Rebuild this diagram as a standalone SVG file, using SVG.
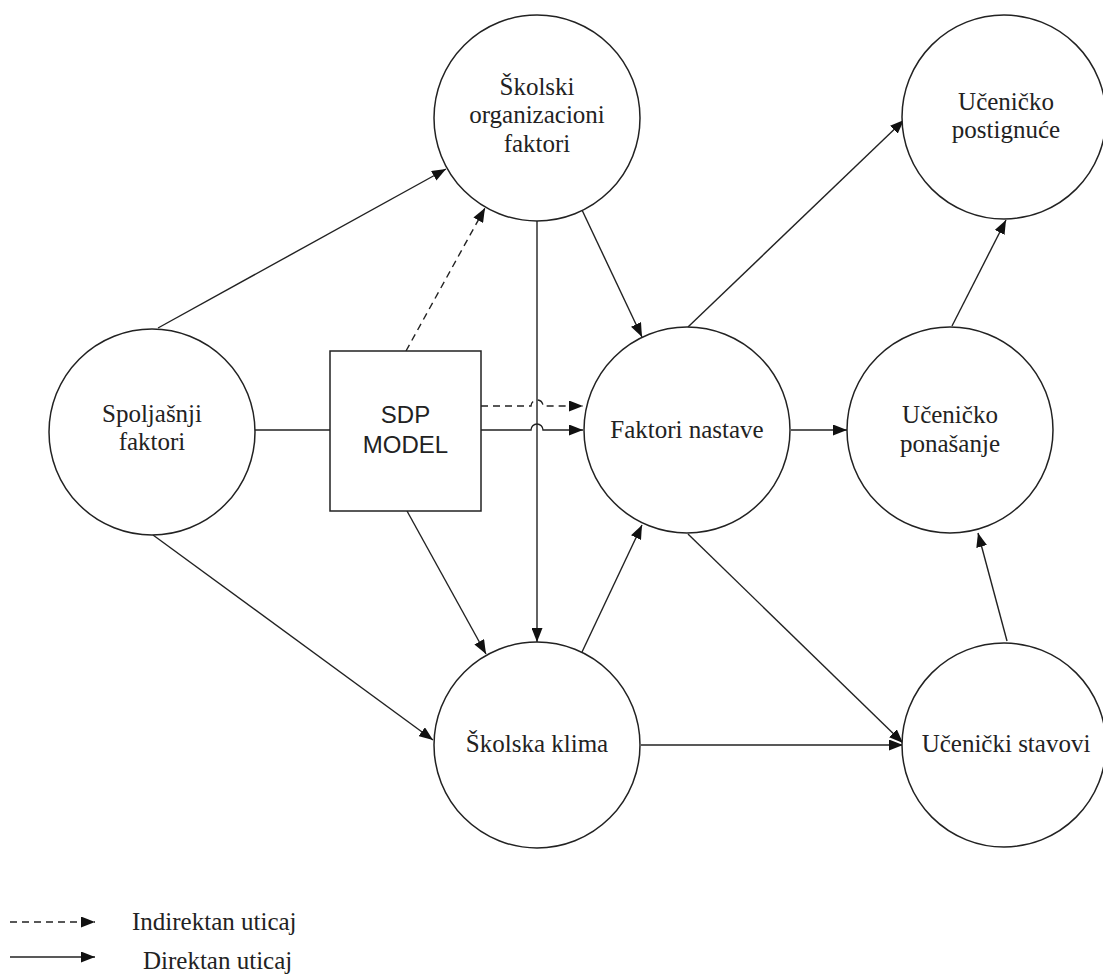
<svg xmlns="http://www.w3.org/2000/svg" width="1103" height="978" viewBox="0 0 1103 978">
<defs>
<marker id="ah" viewBox="0 0 14 11" markerWidth="14" markerHeight="11" refX="14" refY="5.5" orient="auto" markerUnits="userSpaceOnUse">
<path d="M0,0 L14,5.5 L0,11 z" fill="#111"/>
</marker>
<style>
.node{fill:#fff;stroke:#222;stroke-width:1.5}
.t{font-family:"Liberation Serif","Times New Roman",serif;font-size:25px;fill:#222;text-anchor:middle}
.s{font-family:"Liberation Sans",Arial,sans-serif;font-size:24px;fill:#222;text-anchor:middle}
.lg{font-family:"Liberation Serif","Times New Roman",serif;font-size:25px;fill:#222}
.c{fill:none;stroke:#222;stroke-width:1.4}
.a{marker-end:url(#ah)}
.d{stroke-dasharray:7 5}
</style>
</defs>
<rect width="1103" height="978" fill="#fff"/>
<g id="connectors">
<line class="c" x1="255" y1="430" x2="330" y2="430"/>
<line class="c a" x1="158" y1="328" x2="446" y2="169"/>
<line class="c a" x1="153" y1="535" x2="433" y2="740"/>
<line class="c d a" x1="406" y1="351" x2="485" y2="208"/>
<line class="c a" x1="407" y1="511" x2="486" y2="654"/>
<line class="c a" x1="537" y1="221" x2="537" y2="642"/>
<line class="c a" x1="582" y1="210" x2="642" y2="337"/>
<line class="c a" x1="582" y1="652" x2="642" y2="525"/>
<path class="c d a" d="M481,406 H531 A6,6 0 0 1 543,406 H583"/>
<path class="c a" d="M481,430 H531 A6,6 0 0 1 543,430 H583"/>
<line class="c a" x1="688" y1="327" x2="904" y2="120"/>
<line class="c a" x1="791" y1="430" x2="847" y2="430"/>
<line class="c a" x1="688" y1="534" x2="903" y2="743"/>
<line class="c a" x1="641" y1="745" x2="903" y2="745"/>
<line class="c a" x1="1007" y1="641" x2="978" y2="533"/>
<line class="c a" x1="952" y1="326" x2="1006" y2="220"/>
</g>
<g id="spoljasnji">
<circle class="node" cx="152" cy="432" r="103"/>
<text class="t" x="152" y="422">Spoljašnji</text>
<text class="t" x="152" y="450">faktori</text>
</g>
<g id="skolski-org">
<circle class="node" cx="537" cy="118" r="103"/>
<text class="t" x="537" y="95">Školski</text>
<text class="t" x="537" y="123">organizacioni</text>
<text class="t" x="537" y="152">faktori</text>
</g>
<g id="sdp">
<rect class="node" x="330" y="351" width="151" height="160"/>
<text class="s" x="405.5" y="423">SDP</text>
<text class="s" x="405.5" y="453">MODEL</text>
</g>
<g id="faktori-nastave">
<circle class="node" cx="687" cy="430" r="103"/>
<text class="t" x="687" y="438">Faktori nastave</text>
</g>
<g id="skolska-klima">
<circle class="node" cx="537" cy="745" r="103"/>
<text class="t" x="537" y="752">Školska klima</text>
</g>
<g id="ucenicko-postignuce">
<circle class="node" cx="1004" cy="117" r="102"/>
<text class="t" x="1006" y="110">Učeničko</text>
<text class="t" x="1006" y="138">postignuće</text>
</g>
<g id="ucenicko-ponasanje">
<circle class="node" cx="950" cy="430" r="103"/>
<text class="t" x="950" y="423">Učeničko</text>
<text class="t" x="950" y="452">ponašanje</text>
</g>
<g id="ucenicki-stavovi">
<circle class="node" cx="1004" cy="745" r="102"/>
<text class="t" x="1006" y="752">Učenički stavovi</text>
</g>
<g id="legend">
<line class="c d a" x1="10" y1="922" x2="95" y2="922"/>
<line class="c a" x1="10" y1="957" x2="95" y2="957"/>
<text class="lg" x="132" y="930">Indirektan uticaj</text>
<text class="lg" x="143" y="969">Direktan uticaj</text>
</g>
</svg>
